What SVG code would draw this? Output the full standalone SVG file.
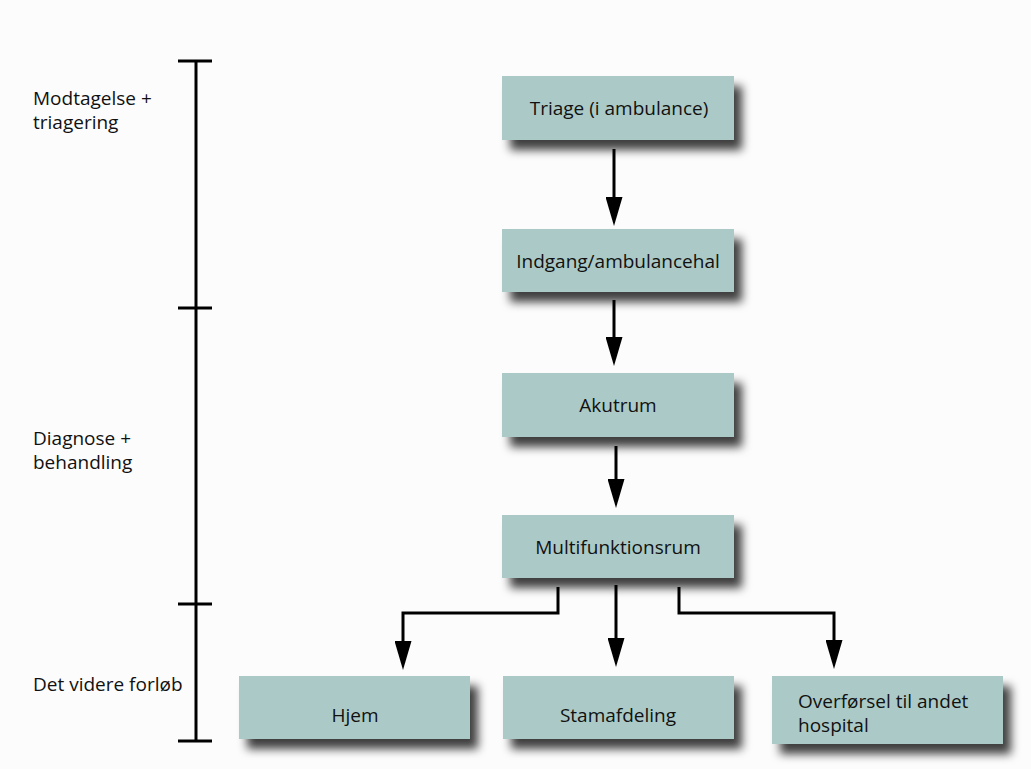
<svg xmlns="http://www.w3.org/2000/svg" width="1031" height="769" viewBox="0 0 1031 769">
  <defs>
    <style>
      .node rect { fill: #abcac7; filter: url(#shadow); }
      .node text, .label { font-family: "Open Sans", "Liberation Sans", sans-serif; font-size: 19px; fill: #111; }
      .node text { text-anchor: middle; }
      .conn { fill: none; stroke: #000; stroke-width: 3; marker-end: url(#head); }
      .axis { stroke: #000; stroke-width: 3; fill: none; }
    </style>
    <filter id="shadow" x="-10%" y="-25%" width="135%" height="170%">
      <feDropShadow dx="8" dy="10" stdDeviation="5" flood-color="#000" flood-opacity="0.75"/>
    </filter>
    <!-- arrowhead: base sits at the end of the shaft -->
    <marker id="head" viewBox="0 0 29 17" refX="0" refY="8.5" markerWidth="29" markerHeight="17" markerUnits="userSpaceOnUse" orient="auto">
      <path d="M0,0 L29,8.5 L0,17 Z" fill="#000"/>
    </marker>
  </defs>

  <rect width="1031" height="769" fill="#fcfcfc"/>

  <!-- phase axis -->
  <g id="phase-axis">
    <line class="axis" x1="196" y1="61" x2="196" y2="741"/>
    <line class="axis" x1="178" y1="61" x2="212" y2="61"/>
    <line class="axis" x1="178" y1="308" x2="212" y2="308"/>
    <line class="axis" x1="178" y1="604" x2="212" y2="604"/>
    <line class="axis" x1="178" y1="741" x2="212" y2="741"/>
    <text class="label" x="33" y="105">Modtagelse +</text>
    <text class="label" x="33" y="129">triagering</text>
    <text class="label" x="33" y="445">Diagnose +</text>
    <text class="label" x="33" y="469">behandling</text>
    <text class="label" x="33" y="691">Det videre forløb</text>
  </g>

  <!-- connectors -->
  <g id="connectors">
    <line class="conn" x1="614" y1="149" x2="614" y2="197"/>
    <line class="conn" x1="614" y1="300" x2="614" y2="337"/>
    <line class="conn" x1="616" y1="446" x2="616" y2="479"/>
    <line class="conn" x1="616" y1="585" x2="616" y2="638"/>
    <path class="conn" d="M558,587 V613 H403 V641"/>
    <path class="conn" d="M679,587 V613 H834 V640"/>
  </g>

  <g id="triage" class="node">
    <rect x="502" y="76" width="232" height="64"/>
    <text x="619" y="115">Triage (i ambulance)</text>
  </g>
  <g id="indgang" class="node">
    <rect x="502" y="229" width="232" height="63"/>
    <text x="618" y="267.5">Indgang/ambulancehal</text>
  </g>
  <g id="akutrum" class="node">
    <rect x="502" y="373" width="232" height="64"/>
    <text x="618" y="411.5">Akutrum</text>
  </g>
  <g id="multifunktionsrum" class="node">
    <rect x="502" y="515" width="232" height="63"/>
    <text x="618" y="553.5">Multifunktionsrum</text>
  </g>
  <g id="hjem" class="node">
    <rect x="239" y="676" width="231" height="63"/>
    <text x="355" y="722">Hjem</text>
  </g>
  <g id="stamafdeling" class="node">
    <rect x="503" y="676" width="231" height="63"/>
    <text x="618" y="722">Stamafdeling</text>
  </g>
  <g id="overfoersel" class="node">
    <rect x="772" y="676" width="231" height="68"/>
    <text x="798" y="708" style="text-anchor:start">Overførsel til andet</text>
    <text x="798" y="732" style="text-anchor:start">hospital</text>
  </g>
</svg>
